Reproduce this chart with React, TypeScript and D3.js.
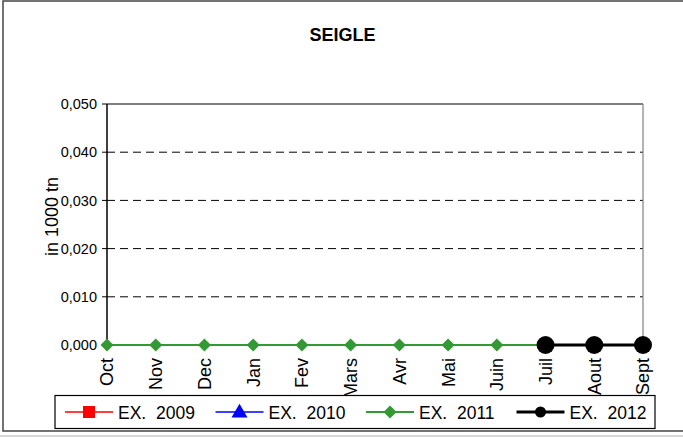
import React from 'react';
import * as d3 from 'd3';

const months = ['Oct', 'Nov', 'Dec', 'Jan', 'Fev', 'Mars', 'Avr', 'Mai', 'Juin', 'Juil', 'Aout', 'Sept'];
const ex2009: (number | null)[] = [null, null, null, null, null, null, null, null, null, null, null, null];
const ex2010: (number | null)[] = [null, null, null, null, null, null, null, null, null, null, null, null];
const ex2011: (number | null)[] = [0, 0, 0, 0, 0, 0, 0, 0, 0, 0, 0, 0];
const ex2012: (number | null)[] = [null, null, null, null, null, null, null, null, null, 0, 0, 0];
const yTicks = [0, 0.01, 0.02, 0.03, 0.04, 0.05];
const seriesNames = ['EX.  2009', 'EX.  2010', 'EX.  2011', 'EX.  2012'];

const W = 683;
const H = 438;
const font = '"Liberation Sans", Arial, sans-serif';

const series = [
  { name: seriesNames[0], values: ex2009, color: '#ff0000', width: 1.5, marker: 'square' },
  { name: seriesNames[1], values: ex2010, color: '#0000ff', width: 1.5, marker: 'triangle' },
  { name: seriesNames[2], values: ex2011, color: '#339933', width: 2, marker: 'diamond' },
  { name: seriesNames[3], values: ex2012, color: '#000000', width: 3, marker: 'circle' },
];

const fmt = d3.formatLocale({ decimal: ',', thousands: '.', grouping: [3], currency: ['', ''] }).format('.3f');

function Marker({ type, x, y, color, big }: { type: string; x: number; y: number; color: string; big?: boolean }) {
  if (type === 'square') return <rect x={x - 6} y={y - 6} width={12} height={12} fill={color} />;
  if (type === 'triangle') {
    const t = d3.symbol(d3.symbolTriangle, 110)();
    return <path d={t as string} transform={`translate(${x},${y + 1})`} fill={color} />;
  }
  if (type === 'diamond') {
    const r = 6.5;
    return <path d={`M${x},${y - r}L${x + r},${y}L${x},${y + r}L${x - r},${y}Z`} fill={color} />;
  }
  return <circle cx={x} cy={y} r={big ? 9 : 5.5} fill={color} />;
}

export default function App() {
  const left = 107, top = 104, right = 643, bottom = 345;
  const x = d3.scalePoint<string>().domain(months).range([left, right]).padding(0);
  const y = d3.scaleLinear().domain([0, 0.05]).range([bottom, top]);

  const line = d3
    .line<number | null>()
    .defined((d) => d !== null)
    .x((_, i) => x(months[i]) as number)
    .y((d) => y(d as number));

  const legendX = d3.scaleLinear().domain([0, 1]).range([65, 215.5]);

  return (
    <svg width={W} height={H} style={{ position: 'absolute', left: 0, top: 0, background: '#fff' }} fontFamily={font}>
      <rect x={0} y={0} width={W} height={H} fill="#fff" />
      <rect x={3} y={1} width={W + 10} height={430} fill="none" stroke="#444" strokeWidth={1.5} />
      <line x1={0} x2={W} y1={436} y2={436} stroke="#d8d8d8" strokeWidth={2} />

      <text x={342.5} y={41} textAnchor="middle" fontWeight="bold" fontSize={18}>
        SEIGLE
      </text>

      {/* grid */}
      {yTicks.slice(1, -1).map((t) => (
        <line key={t} x1={left} x2={right} y1={y(t)} y2={y(t)} stroke="#000" strokeDasharray="8,5" strokeWidth={1} />
      ))}
      <line x1={left} x2={right} y1={top} y2={top} stroke="#000" strokeWidth={1.2} />
      <line x1={right} x2={right} y1={top} y2={bottom} stroke="#808080" strokeWidth={1.2} />
      <line x1={left} x2={right} y1={bottom} y2={bottom} stroke="#000" strokeWidth={1.2} />
      <line x1={left} x2={left} y1={top} y2={bottom} stroke="#000" strokeWidth={1.5} />

      {/* y axis */}
      {yTicks.map((t) => (
        <g key={t}>
          <line x1={left - 5} x2={left} y1={y(t)} y2={y(t)} stroke="#000" />
          <text x={left - 10} y={y(t)} dy="0.36em" textAnchor="end" fontSize={14.5}>
            {fmt(t)}
          </text>
        </g>
      ))}
      <text transform="translate(58,216.5) rotate(-90)" textAnchor="middle" fontSize={18}>
        in 1000 tn
      </text>

      {/* x labels */}
      {months.map((m) => (
        <text key={m} transform={`translate(${x(m)},358) rotate(-90)`} dy="0.36em" textAnchor="end" fontSize={18}>
          {m}
        </text>
      ))}

      {/* series */}
      {series.map((s) => (
        <g key={s.name}>
          <path d={line(s.values) || ''} fill="none" stroke={s.color} strokeWidth={s.width} />
          {s.values.map((v, i) =>
            v === null ? null : (
              <Marker key={i} type={s.marker} x={x(months[i]) as number} y={y(v)} color={s.color} big />
            )
          )}
        </g>
      ))}

      {/* legend */}
      <rect x={55} y={395.5} width={600} height={33} fill="#fff" stroke="#000" strokeWidth={1.2} />
      {series.map((s, i) => {
        const lx = legendX(i);
        return (
          <g key={s.name}>
            <line x1={lx} x2={lx + 48} y1={412} y2={412} stroke={s.color} strokeWidth={s.width} />
            <Marker type={s.marker} x={lx + 24} y={412} color={s.color} />
            <text x={lx + 53} y={418.5} fontSize={17.5} style={{ whiteSpace: 'pre' }}>
              {s.name}
            </text>
          </g>
        );
      })}
    </svg>
  );
}
